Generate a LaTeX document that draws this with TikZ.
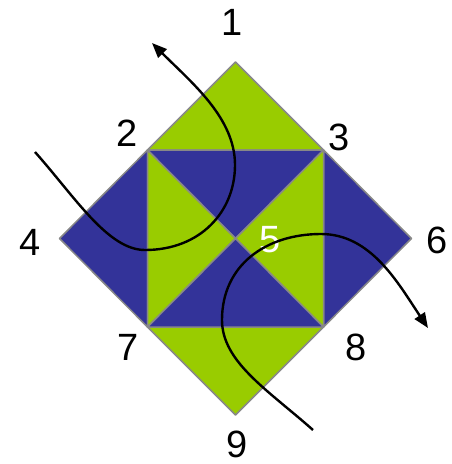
\documentclass[tikz,border=0pt]{standalone}
\usepackage{fontspec}
\setmainfont{Liberation Sans}
\usetikzlibrary{arrows.meta}
\definecolor{lgreen}{HTML}{99CC00}
\definecolor{dblue}{HTML}{333399}
\definecolor{edgegray}{HTML}{888888}
\begin{document}
\begin{tikzpicture}[x=1pt,y=-1pt,
  tri/.style={draw=edgegray,line width=1.5pt,line join=round},
  lbl/.style={font=\fontsize{38}{38}\selectfont,inner sep=0pt},
  curve/.style={line width=2.4pt,-{Triangle[length=15pt,width=12pt]}}]
\useasboundingbox (0,0) rectangle (451,464);
% vertices
\coordinate (v1) at (235.5,62);
\coordinate (v2) at (147.5,150);
\coordinate (v3) at (323.5,150);
\coordinate (v4) at (59.5,238.5);
\coordinate (v5) at (235.5,238.5);
\coordinate (v6) at (411.5,238.5);
\coordinate (v7) at (147.5,327);
\coordinate (v8) at (323.5,327);
\coordinate (v9) at (235.5,415);
% triangles
\filldraw[tri,fill=lgreen] (v1) -- (v2) -- (v3) -- cycle;
\filldraw[tri,fill=dblue] (v4) -- (v2) -- (v7) -- cycle;
\filldraw[tri,fill=dblue] (v6) -- (v3) -- (v8) -- cycle;
\filldraw[tri,fill=lgreen] (v9) -- (v7) -- (v8) -- cycle;
\filldraw[tri,fill=dblue] (v2) -- (v3) -- (v5) -- cycle;
\filldraw[tri,fill=lgreen] (v2) -- (v7) -- (v5) -- cycle;
\filldraw[tri,fill=lgreen] (v3) -- (v8) -- (v5) -- cycle;
\filldraw[tri,fill=dblue] (v7) -- (v8) -- (v5) -- cycle;
% labels
\node[lbl] (l1) at (232,22) {1};
\node[lbl] (l2) at (127,133) {2};
\node[lbl] (l3) at (339,137) {3};
\node[lbl] (l4) at (30,242) {4};
\node[lbl,text=white] (l5) at (270,240) {5};
\node[lbl] (l6) at (437,240) {6};
\node[lbl] (l7) at (128,347) {7};
\node[lbl] (l8) at (356,347) {8};
\node[lbl] (l9) at (237,444) {9};
% curves
\coordinate (a0) at (35,152);
\coordinate (a1) at (145,250);
\coordinate (a2) at (235,165);
\coordinate (a3) at (152,43);
\draw[curve] (a0) .. controls (75,197) and (108,250) .. (a1)
  .. controls (200,250) and (235,212) .. (a2)
  .. controls (235,118) and (192,83) .. (a3);
\coordinate (b0) at (313,430);
\coordinate (b1) at (222,320);
\coordinate (b2) at (321,234);
\coordinate (b3) at (428,328);
\draw[curve] (b0) .. controls (268,390) and (222,362) .. (b1)
  .. controls (222,265) and (266,234) .. (b2)
  .. controls (371,234) and (398,283) .. (b3);
\end{tikzpicture}
\end{document}
